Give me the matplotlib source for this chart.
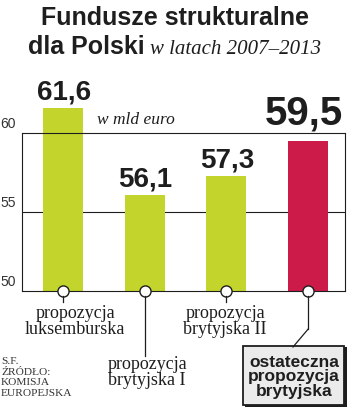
import matplotlib.pyplot as plt
from matplotlib.patches import Rectangle
from matplotlib.lines import Line2D
from matplotlib.transforms import IdentityTransform

# dane
categories = ["propozycja\nluksemburska", "propozycja\nbrytyjska I",
              "propozycja\nbrytyjska II", "ostateczna\npropozycja\nbrytyjska"]
values = [61.6, 56.1, 57.3, 59.5]
value_labels = ["61,6", "56,1", "57,3", "59,5"]
yticks = [50, 55, 60]
source = "S.F.\nŹRÓDŁO:\nKOMISJA\nEUROPEJSKA"

GREEN = "#c3d42c"
RED = "#cc1a49"
INK = "#1e1e1e"
SANS = ["Liberation Sans", "DejaVu Sans"]
SERIF = ["Liberation Serif", "DejaVu Sans"]

W, H = 350, 410
fig = plt.figure(figsize=(W / 100, H / 100), dpi=100)


def fx(x):
    return x / W


def fy(y):
    return 1 - y / H


base = yticks[0]
ax = fig.add_axes([fx(22), fy(292), (345 - 22) / W, (292 - 134) / H])
ax.set_xlim(-0.5, 3.45)
ax.set_ylim(base, yticks[-1])
ax.set_xticks([])
ax.set_yticks([])
for s in ax.spines.values():
    s.set_color(INK)
    s.set_linewidth(0.8)
ax.axhline(55, color=INK, lw=0.8, zorder=1)

x = range(len(values))
colors = [GREEN, GREEN, GREEN, RED]
ax.bar(x, [v - base for v in values], bottom=base, width=0.49, color=colors,
       clip_on=False, zorder=2)

# podpisy osi Y nad liniami
for t in yticks:
    ax.annotate(str(t), xy=(0, t), xycoords=("figure fraction", "data"),
                xytext=(0, 3), textcoords="offset pixels", ha="left", va="bottom",
                fontsize=10, color="#333333", family=SANS)

# wartości nad słupkami
for i, (v, lbl) in enumerate(zip(values, value_labels)):
    if i == 3:
        ax.annotate(lbl, xy=(i, v), xytext=(-4, 17), textcoords="offset pixels",
                    ha="center", va="baseline", fontsize=29, weight="bold",
                    color=INK, family=SANS, annotation_clip=False)
    else:
        ax.annotate(lbl, xy=(i, v), xytext=(1, 9), textcoords="offset pixels",
                    ha="center", va="baseline", fontsize=20, weight="bold",
                    color=INK, family=SANS, annotation_clip=False)

ax.text(0.233, 1.09, "w mld euro", transform=ax.transAxes, ha="left", va="center",
        fontsize=12.5, style="italic", family=SERIF, color=INK)

# kółka i linie odnośników
ax.plot(x, [base] * len(values), "o", ms=8, mfc="white", mec=INK, mew=1,
        clip_on=False, zorder=5)

ends = [303, 357, 303, 330]
for i, yend in enumerate(ends):
    px, py = ax.transData.transform((i, base))
    fig.add_artist(Line2D([px, px], [py - 5, H - yend], color=INK, lw=0.9,
                          transform=IdentityTransform()))
px, _ = ax.transData.transform((3, base))
fig.add_artist(Line2D([px, 293], [H - 330, H - 348], color=INK, lw=0.9,
                      transform=IdentityTransform()))

# etykiety kategorii
label_pos = [(75, 305), (147, 356), (225, 305)]
for (cx, ty), lbl in zip(label_pos, categories[:3]):
    fig.text(fx(cx), fy(ty), lbl, ha="center", va="top", fontsize=13,
             family=SERIF, color=INK, linespacing=0.95)

# ramka ostatecznej propozycji
fig.add_artist(Rectangle((fx(245), fy(408)), 102 / W, 60 / H, transform=fig.transFigure,
                         fc=INK, ec="none"))
fig.add_artist(Rectangle((fx(243), fy(406)), 101 / W, 59 / H, transform=fig.transFigure,
                         fc="#ebebeb", ec=INK, lw=1.3))
fig.text(fx(294), fy(377), categories[3], ha="center", va="center", fontsize=12.5,
         weight="bold", family=SANS, color=INK, linespacing=0.95)

fig.text(fx(1), fy(357), source, ha="left", va="top", fontsize=8.2,
         family=SERIF, color="#333333", linespacing=1.25)

# tytuł
fig.text(fx(175), fy(25), "Fundusze strukturalne", ha="center", va="baseline",
         fontsize=18, weight="bold", family=SANS, color=INK)
fig.text(fx(28), fy(54), "dla Polski", ha="left", va="baseline",
         fontsize=18, weight="bold", family=SANS, color=INK)
fig.text(fx(150), fy(54), "w latach 2007–2013", ha="left", va="baseline",
         fontsize=15, style="italic", family=SERIF, color=INK)

fig.savefig("out.png", dpi=100)
